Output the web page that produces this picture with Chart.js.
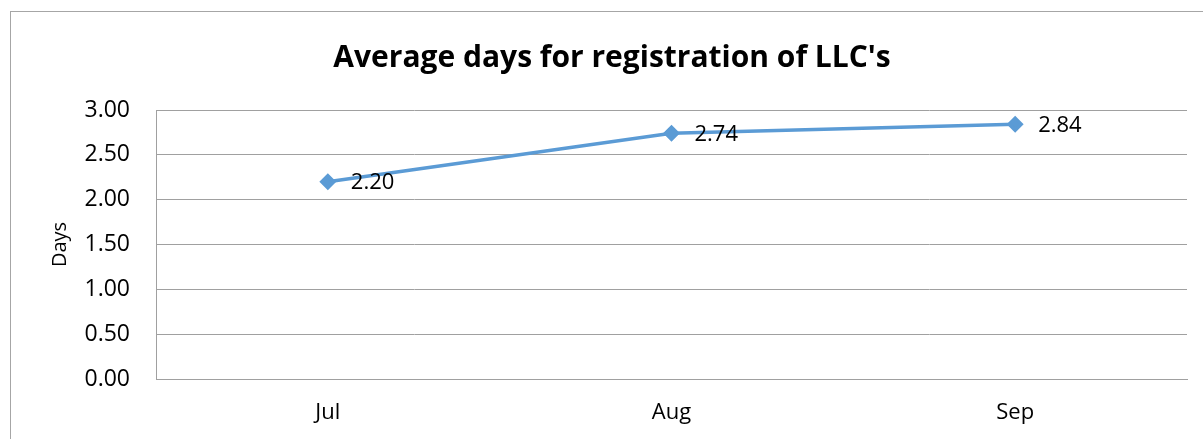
<!DOCTYPE html>
<html>
<head>
<meta charset="utf-8">
<script src="https://cdn.jsdelivr.net/npm/chart.js@4.4.1/dist/chart.umd.min.js"></script>
<style>
  html, body { margin: 0; padding: 0; background: #fff; overflow: hidden; }
  #frame { position: absolute; left: 10px; top: 11px; width: 1230px; height: 460px; border: 1px solid #a6a6a6; }
  #chart { position: absolute; left: 0; top: 0; }
</style>
</head>
<body>
<div id="frame"></div>
<canvas id="chart" width="1203" height="439"></canvas>
<script>
// data
const months = ['Jul', 'Aug', 'Sep'];
const avgDays = [2.20, 2.74, 2.84];
const yTicks = [0, 0.5, 1, 1.5, 2, 2.5, 3];

const FONT = "'Open Sans', 'Noto Sans', sans-serif";
const GRID = '#a0a0a0';

// value labels to the right of each point
const valueLabels = {
  id: 'valueLabels',
  afterDatasetsDraw(chart) {
    const ctx = chart.ctx;
    const meta = chart.getDatasetMeta(0);
    ctx.save();
    ctx.font = '22px ' + FONT;
    ctx.fillStyle = '#000';
    ctx.textAlign = 'left';
    ctx.textBaseline = 'middle';
    meta.data.forEach((pt, i) => {
      ctx.fillText(avgDays[i].toFixed(2), pt.x + 23, pt.y + 1);
    });
    ctx.restore();
  }
};

new Chart(document.getElementById('chart'), {
  type: 'line',
  data: {
    labels: months,
    datasets: [{
      label: 'Average days',
      data: avgDays,
      borderColor: '#5b9bd5',
      backgroundColor: '#5b9bd5',
      borderWidth: 3.5,
      pointStyle: 'rectRot',
      pointRadius: 6,
      pointHoverRadius: 6,
      tension: 0
    }]
  },
  options: {
    responsive: false,
    animation: false,
    layout: { padding: { left: 37, right: 16, top: 0, bottom: 0 } },
    plugins: {
      legend: { display: false },
      tooltip: { enabled: false },
      title: {
        display: true,
        text: "Average days for registration of LLC's",
        color: '#000',
        font: { family: FONT, size: 30, weight: 'bold', lineHeight: 1.2 },
        padding: { top: 40, bottom: 34 }
      }
    },
    scales: {
      x: {
        offset: true,
        grid: { display: false, drawTicks: false },
        border: { display: true, color: GRID, width: 1 },
        ticks: { color: '#000', padding: 21, font: { family: FONT, size: 22 } },
        afterFit(s) { s.height = 60; }
      },
      y: {
        min: 0,
        max: 3,
        afterBuildTicks(s) { s.ticks = yTicks.map(v => ({ value: v })); },
        grid: { color: GRID, drawTicks: false, lineWidth: 1 },
        border: { display: true, color: GRID, width: 1 },
        ticks: {
          color: '#000',
          padding: 26,
          font: { family: FONT, size: 23 },
          callback: v => Number(v).toFixed(2)
        },
        title: {
          display: true,
          text: 'Days',
          color: '#000',
          font: { family: FONT, size: 20 },
          padding: { top: 11, bottom: 0 }
        },
        afterFit(s) { s.width = 119; }
      }
    }
  },
  plugins: [valueLabels]
});
</script>
</body>
</html>
